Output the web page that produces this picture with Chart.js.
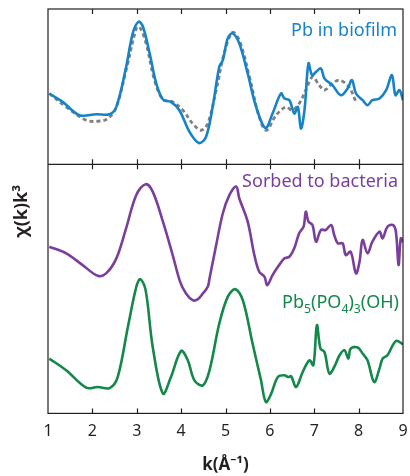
<!DOCTYPE html>
<html>
<head>
<meta charset="UTF-8">
<title>EXAFS chi(k)k3</title>
<script src="https://cdn.jsdelivr.net/npm/chart.js"></script>
<style>
  html, body { margin:0; padding:0; background:#fff; }
  #wrap { width:410px; height:476px; position:relative; }
</style>
</head>
<body>
<div id="wrap"><canvas id="c"></canvas></div>
<script>
// top panel: Pb in biofilm (blue) and fit (grey dashed)
const kBlue   = [1.03,1.33,1.71,2.09,2.39,2.54,2.76,2.91,3.04,3.14,3.29,3.44,3.59,3.77,3.96,4.19,4.40,4.56,4.71,4.86,4.94,5.05,5.16,5.31,5.50,5.69,5.90,6.06,6.25,6.33,6.44,6.55,6.63,6.70,6.78,6.87,6.95,7.04,7.15,7.23,7.41,7.60,7.75,7.85,7.94,8.09,8.20,8.31,8.47,8.62,8.75,8.83,8.92,9.0];
const chiBlue = [70.7,62.3,49,50,50,57.3,97,130.7,142.3,137.3,110.7,80.7,64.7,62.3,54,32.3,21.3,27.3,57.3,97.3,104,125.7,130.7,120.7,90.7,57.3,36.3,50.7,70.7,65.7,64,50.7,57.3,35.7,54,100.7,89,92.3,95.7,85.7,79,69,75.7,84,70.7,64,59,64,65.7,74,89,69,74,64];
const kGrey   = [1.03,1.41,1.86,2.12,2.35,2.54,2.76,2.99,3.06,3.21,3.40,3.59,3.81,4.04,4.26,4.45,4.60,4.79,4.97,5.16,5.31,5.54,5.76,5.92,6.14,6.36,6.50,6.66,6.81,6.96,7.11,7.23,7.41,7.57,7.78,7.94];
const chiGrey = [70.7,57.3,44,43,45.7,57.3,94,135.7,137.3,120.7,84,64.7,62.3,54,40.7,34,40.7,74,110.7,131.7,124,87.3,47.3,34,49,57.3,54,60.7,74,87.3,79,74,80.7,84,77.3,62.3];

// bottom panel: sorbed to bacteria (purple) and Pb5(PO4)3(OH) (green)
const kPurple   = [1.03,1.41,1.78,2.12,2.31,2.54,2.76,2.99,3.20,3.36,3.59,3.81,3.98,4.11,4.26,4.37,4.49,4.60,4.64,4.79,4.94,5.09,5.24,5.31,5.50,5.65,5.76,5.88,5.94,6.06,6.21,6.33,6.44,6.55,6.66,6.76,6.81,6.87,6.96,7.04,7.15,7.26,7.38,7.45,7.53,7.64,7.71,7.82,7.94,8.02,8.09,8.20,8.31,8.47,8.54,8.65,8.77,8.84,8.90,8.95,9.0];
const chiPurple = [166.3,159.7,148,137.3,139.7,154.7,184.7,218,228.7,221.3,191.3,158,131,119.7,113,113.7,119.7,126.3,134.7,168,199.7,218,226.3,214.7,191.3,158,141.3,136.3,128,138,148,154.7,156.3,164.7,179.7,186.3,201.3,191.3,188,171.3,183,183,188,178,169.7,169.7,158,161.3,139.7,151.3,173,159.7,171.3,181.3,174.7,186.3,188,181.3,148,174.7,171];
const kGreen   = [1.03,1.41,1.86,2.12,2.39,2.57,2.80,2.99,3.08,3.20,3.36,3.59,3.77,4.0,4.15,4.30,4.49,4.64,4.86,5.05,5.22,5.39,5.61,5.80,5.91,6.03,6.18,6.33,6.41,6.48,6.59,6.74,6.89,6.98,7.06,7.14,7.23,7.34,7.45,7.57,7.68,7.77,7.82,7.98,8.09,8.20,8.35,8.47,8.54,8.65,8.84,9.0];
const chiGreen = [54.7,43,25.7,26.3,25.3,36.3,86.3,126.3,134,123,66.3,19.7,36.3,62.3,53,33,28,43,89.7,116.3,124,113,69.7,33,11.3,19.7,36.3,38,36.3,37,26.3,41.3,53,48,88,64.7,61.3,39.7,46.3,58,63,54.7,64.7,65.7,59.7,53,31.3,44.7,54.7,58,72.3,69];

const kTicks = [1,2,3,4,5,6,7,8,9];

const pts = (ks, vs) => ks.map((k, i) => ({ x: k, y: vs[i] }));
const INK = '#231f20';
const FONT = '"Noto Sans", "Open Sans", sans-serif';

// draw label made of pieces, right aligned; sub pieces are smaller and lowered
function drawRich(ctx, parts, right, base, size, color) {
  ctx.save();
  ctx.fillStyle = color;
  ctx.textBaseline = 'alphabetic';
  ctx.textAlign = 'left';
  let w = 0;
  parts.forEach(p => {
    ctx.font = (p.sub ? size * 0.68 : size) + 'px ' + FONT;
    w += ctx.measureText(p.t).width;
  });
  let x = right - w;
  parts.forEach(p => {
    ctx.font = (p.sub ? size * 0.68 : size) + 'px ' + FONT;
    ctx.fillText(p.t, x, base + (p.sub ? size * 0.3 : 0));
    x += ctx.measureText(p.t).width;
  });
  ctx.restore();
}

const framePlugin = {
  id: 'frame',
  afterDatasetsDraw(chart) {
    const ctx = chart.ctx;
    const xs = chart.scales.x, yt = chart.scales.yTop, yb = chart.scales.yBot;
    const L = chart.chartArea.left, R = chart.chartArea.right;
    const T = yt.top, M = yt.bottom, B = yb.bottom;
    ctx.save();
    ctx.strokeStyle = INK;
    ctx.lineWidth = 1.2;
    ctx.strokeRect(L, T, R - L, B - T);
    ctx.beginPath();
    ctx.moveTo(L, M); ctx.lineTo(R, M);
    kTicks.slice(1, -1).forEach(k => {
      const px = Math.round(xs.getPixelForValue(k)) + 0.5;
      ctx.moveTo(px, T); ctx.lineTo(px, T + 5);
      ctx.moveTo(px, M); ctx.lineTo(px, M - 5);
      ctx.moveTo(px, M); ctx.lineTo(px, M + 5);
      ctx.moveTo(px, B); ctx.lineTo(px, B - 5);
    });
    ctx.stroke();

    // y axis title
    ctx.translate(22, (T + B) / 2);
    ctx.rotate(-Math.PI / 2);
    ctx.fillStyle = INK;
    ctx.font = 'bold 18px ' + FONT;
    ctx.textAlign = 'center';
    ctx.textBaseline = 'middle';
    ctx.fillText('χ(k)k³', 0, 0);
    ctx.restore();

    drawRich(ctx, [{ t: 'Pb in biofilm' }], 397, 36, 18, '#1683c9');
    drawRich(ctx, [{ t: 'Sorbed to bacteria' }], 398, 187, 18, '#7a3e9d');
    drawRich(ctx, [
      { t: 'Pb' }, { t: '5', sub: true }, { t: '(PO' }, { t: '4', sub: true },
      { t: ')' }, { t: '3', sub: true }, { t: '(OH)' }
    ], 399, 308, 18, '#13884a');
  }
};

const line = (data, color, axis, extra) => Object.assign({
  data, yAxisID: axis, borderColor: color, borderWidth: 2.6,
  pointRadius: 0, tension: 0.35, fill: false
}, extra || {});

new Chart(document.getElementById('c'), {
  type: 'line',
  data: {
    datasets: [
      line(pts(kBlue, chiBlue), '#1683c9', 'yTop'),
      line(pts(kGrey, chiGrey), '#808080', 'yTop', { borderDash: [4, 3], borderWidth: 2.8 }),
      line(pts(kPurple, chiPurple), '#7a3e9d', 'yBot'),
      line(pts(kGreen, chiGreen), '#13884a', 'yBot')
    ]
  },
  options: {
    responsive: true,
    maintainAspectRatio: false,
    animation: false,
    layout: { padding: { left: 48, right: 7, top: 9, bottom: 1 } },
    plugins: { legend: { display: false }, tooltip: { enabled: false } },
    scales: {
      x: {
        type: 'linear', min: 1, max: 9,
        afterBuildTicks: s => { s.ticks = kTicks.map(v => ({ value: v })); },
        afterFit: s => { s.paddingRight = 0; s.paddingLeft = 0; },
        grid: { display: false, drawTicks: false },
        border: { display: false },
        ticks: { color: INK, font: { family: FONT, size: 16 }, padding: 8, maxRotation: 0 },
        title: {
          display: true, text: 'k(Å⁻¹)', color: INK,
          font: { family: FONT, size: 17, weight: 'bold' }, padding: { top: 6, bottom: 0 }
        }
      },
      // first scale in a stack sits at the bottom
      yBot: {
        type: 'linear', position: 'left', stack: 'panels', stackWeight: 248.5,
        min: 0, max: 248.5, display: false
      },
      yTop: {
        type: 'linear', position: 'left', stack: 'panels', stackWeight: 155,
        min: 0, max: 155, display: false
      }
    }
  },
  plugins: [framePlugin]
});
</script>
</body>
</html>
